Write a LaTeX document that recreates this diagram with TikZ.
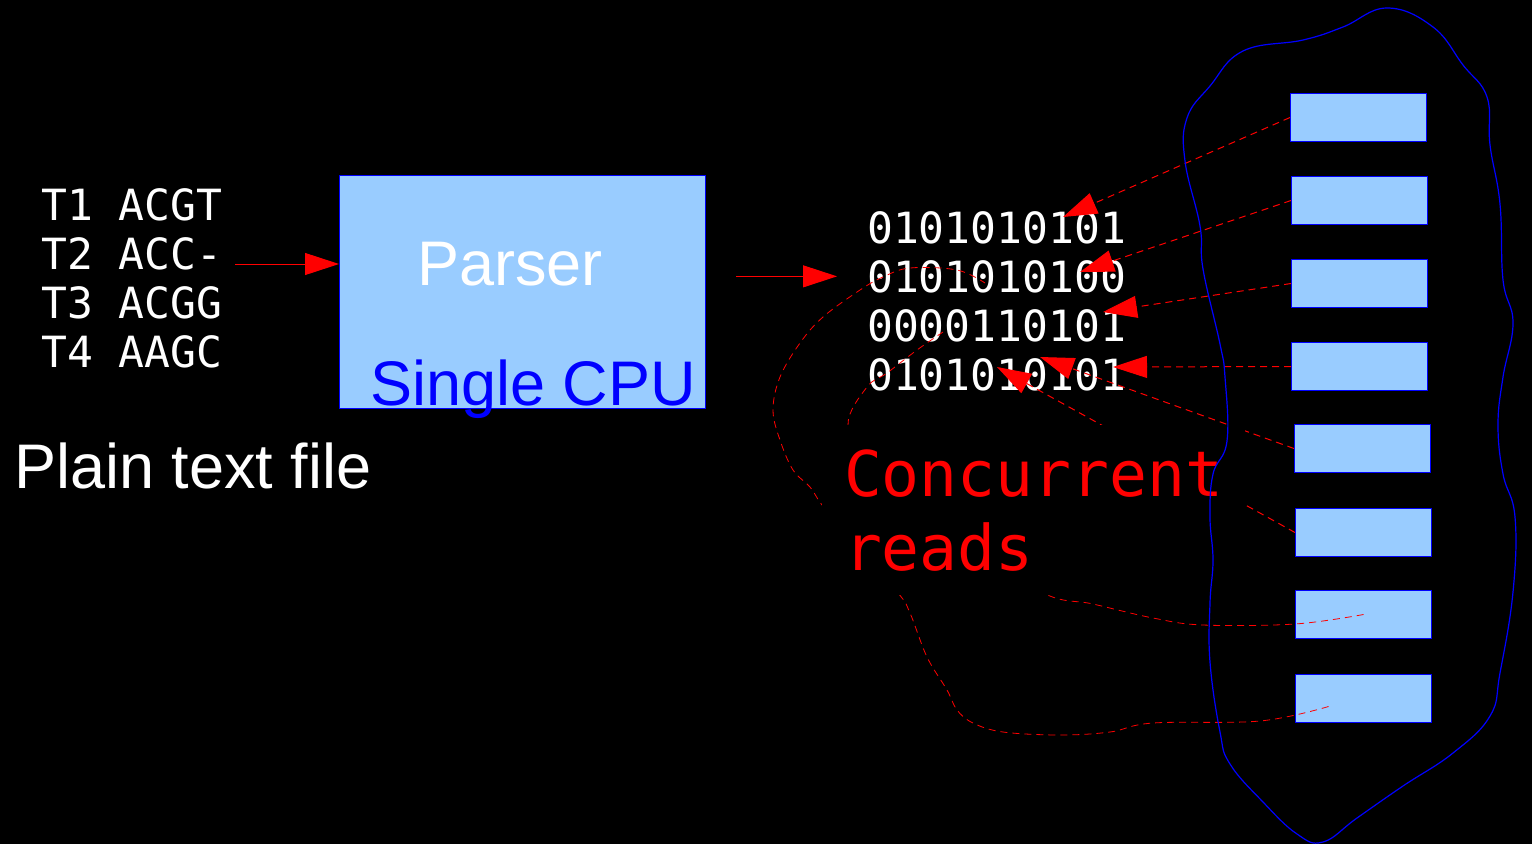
\documentclass[tikz,border=0pt]{standalone}
\usepackage{fontspec}
\setmainfont{Liberation Sans}
\newfontfamily\monofont{DejaVu Sans Mono}
\usetikzlibrary{arrows.meta}
\definecolor{cellblue}{HTML}{99CCFF}

\begin{document}
\begin{tikzpicture}[x=1pt, y=-1pt,
  cell/.style={draw=blue, fill=cellblue, line width=1pt, minimum width=136pt,
    minimum height=48pt, anchor=north west, inner sep=0pt},
  flow/.style={red, line width=1pt, -{Triangle[length=34pt, width=22pt]}},
  readarrow/.style={flow, dash pattern=on 7pt off 5pt},
  readpath/.style={red, line width=0.8pt, dash pattern=on 7pt off 5pt},
  mono/.style={font=\monofont\fontsize{43}{49}\selectfont, text=white,
    inner sep=0pt, anchor=base west},
  big/.style={font=\fontsize{63}{74}\selectfont, inner sep=0pt, anchor=base west}]

  \useasboundingbox (0,0) rectangle (1532,844);
  \fill[black] (0,0) rectangle (1532,844);

  % plain text input
  \foreach \i/\s in {1/ACGT,2/ACC-,3/ACGG,4/AAGC}
    \node[mono] (seq\i) at (41,{171+49*\i}) {T\i\ \s};
  \node[big, text=white] (plain) at (14,488) {Plain text file};

  % parser on one CPU
  \node[cell, minimum width=366pt, minimum height=233pt] (parser) at (339,175) {};
  \node[big, text=white] (parsertxt) at (417,285) {Parser};
  \node[big, text=blue] (cpu) at (370,405) {Single CPU};
  \coordinate (in) at (235,264);
  \draw[flow] (in) -- (in -| parser.west);

  % binary rows
  \foreach \i/\b in {1/0101010101,2/0101010100,3/0000110101,4/0101010101}
    \node[mono] (bin\i) at (867,{194+49*\i}) {\b};
  \draw[flow, shorten <=30pt, shorten >=30pt] (parser.east |- bin2.west) -- (bin2.west);

  % memory cells
  \foreach \i/\x/\y in {1/1290/93, 2/1291/176, 3/1291/259, 4/1291/342,
                        5/1294/424, 6/1295/508, 7/1295/590, 8/1295/674}
    \node[cell] (box\i) at (\x,\y) {};

  % concurrent reads
  \coordinate (tip1) at (1063,217);
  \coordinate (tip2) at (1080,272);
  \coordinate (tip3) at (1103,312);
  \coordinate (tip4) at (1113,367);
  \coordinate (tip5) at (1040,357);
  \coordinate (tip6) at (997,367);
  \foreach \i in {1,...,6}
    \draw[readarrow] (box\i.west) -- (tip\i);

  \coordinate (ct1) at (943,332);
  \coordinate (ct2) at (985,283);
  \draw[readpath] plot[smooth, tension=0.6] coordinates {
    (box7.center) (1295,624) (1203,625) (1153,618) (1093,604) (1043,593)
    (960,540) (870,470) (848,425) (867,387) (887,373) (917,350) (ct1)};
  \draw[readpath] plot[smooth, tension=0.6] coordinates {
    ([xshift=-35pt, yshift=-8pt]box8.center) (1260,721) (1153,723) (1110,732)
    (1060,735) (1003,732) (973,723) (957,710) (947,690) (927,657) (910,613)
    (898,593) (850,540) (822,505) (810,487) (793,470) (780,440) (773,410)
    (780,377) (800,343) (823,317) (860,290) (883,277) (910,268) (957,270) (ct2)};

  \node[fill=black, minimum width=423pt, minimum height=170pt, anchor=north west,
    inner sep=0pt, align=left, text=red,
    font=\monofont\fontsize{63}{74}\selectfont] (reads) at (822,425) {Concurrent\\reads};

  % memory region outline
  \draw[blue, line width=1.2pt] plot[smooth cycle, tension=0.7] coordinates {
    (1387,8) (1433,27) (1463,65) (1487,97) (1490,145) (1500,204) (1503,280)
    (1513,323) (1503,377) (1498,425) (1503,474) (1515,517) (1513,592)
    (1500,673) (1490,716) (1453,753) (1403,786) (1357,818) (1323,842)
    (1297,834) (1263,802) (1230,764) (1220,732) (1210,662) (1210,603)
    (1213,560) (1210,517) (1213,474) (1227,441) (1225,377) (1220,344)
    (1203,269) (1200,226) (1185,161) (1187,118) (1210,86) (1243,51)
    (1303,40) (1343,27)};
\end{tikzpicture}
\end{document}
